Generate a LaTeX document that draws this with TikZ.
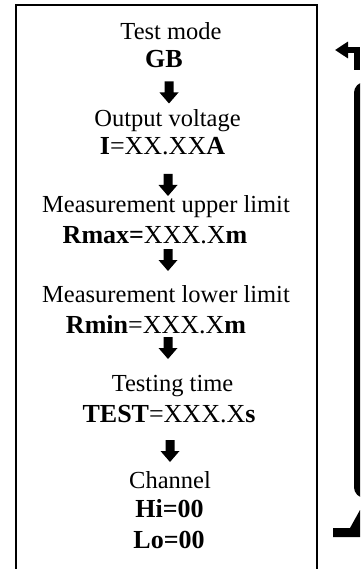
\documentclass[tikz,border=0pt]{standalone}
\usepackage{fontspec}
\setmainfont{Liberation Serif}
\usetikzlibrary{arrows.meta}
\tikzset{
  lbl/.style={anchor=base,inner sep=0pt,font=\fontsize{24.5}{29}\selectfont},
  blbl/.style={anchor=base,inner sep=0pt,font=\fontsize{26}{31}\selectfont},
  downarrow/.style={rectangle,draw=none,inner sep=0pt,minimum width=20pt,minimum height=22pt,
    path picture={\fill[shift={(path picture bounding box.center)}]
      (-4.5,-11) -- (4.5,-11) -- (4.5,0) -- (9.5,0) -- (0,11) -- (-9.5,0) -- (-4.5,0) -- cycle;}},
  frame/.style={line width=2.5pt},
  thick6/.style={line width=6pt}
}
\begin{document}
\begin{tikzpicture}[x=1pt,y=-1pt]
\useasboundingbox (0,0) rectangle (360,569);
\clip (0,0) rectangle (360,569);
% main frame
\draw[frame] (16,600) -- (16,5) -- (317,5) -- (317,600);
% texts
\node[lbl]  (t1) at (171,40)  {Test mode};
\node[blbl] (v1) at (164,68)  {\bfseries GB};
\node[lbl]  (t2) at (167.5,127) {Output voltage};
\node[blbl] (v2) at (162.5,155) {\textbf{I}=XX.XX\textbf{A}};
\node[lbl]  (t3) at (166,212) {Measurement upper limit};
\node[blbl] (v3) at (155,243) {\textbf{Rmax=}XXX.X\textbf{m}};
\node[lbl]  (t4) at (166,302) {Measurement lower limit};
\node[blbl] (v4) at (156,333) {\textbf{Rmin}=XXX.X\textbf{m}};
\node[lbl]  (t5) at (172.5,391) {Testing time};
\node[blbl] (v5) at (169,422) {\textbf{TEST}=XXX.X\textbf{s}};
\node[lbl]  (t6) at (170,488) {Channel};
\node[blbl] (v6) at (169.5,517) {\bfseries Hi=00};
\node[blbl] (v7) at (169,548) {\bfseries Lo=00};
% block arrows
\node[downarrow] (a1) at (169,92.5) {};
\node[downarrow] (a2) at (168,185) {};
\node[downarrow] (a3) at (168,260) {};
\node[downarrow] (a4) at (168,348) {};
\node[downarrow] (a5) at (170,451) {};
% right side return loop (partially visible)
\coordinate (rtop) at (357,70);
\coordinate (rtip) at (335,50);
\draw[thick6,-{Triangle[length=13pt,width=16pt]}] (rtop) |- (rtip);
\coordinate (ra) at (380,85);
\coordinate (rb) at (380,495);
\draw[thick6,rounded corners=8pt] (ra) -- (357,85) -- (357,495) -- (rb);
\fill (333,537) -- (333,528) -- (350,528) -- (360,510) -- (360,537) -- cycle;
\end{tikzpicture}
\end{document}
